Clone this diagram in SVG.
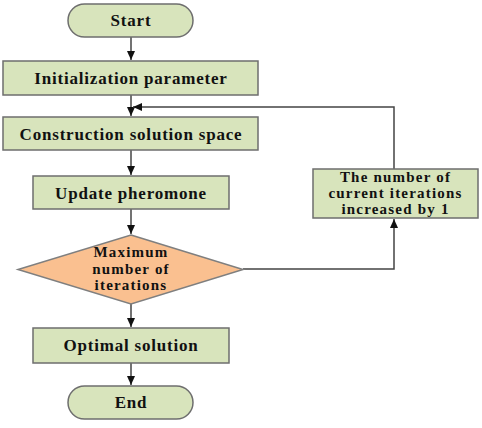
<svg xmlns="http://www.w3.org/2000/svg" width="482" height="428" viewBox="0 0 482 428">
<style>
.box{fill:#d8e4bc;stroke:#6e6e6e;stroke-width:1.5}
.dia{fill:#fac090;stroke:#7f7f7f;stroke-width:1.5}
.t{font-family:'Liberation Serif','DejaVu Serif','Times New Roman',serif;font-weight:bold;font-size:17px;letter-spacing:0.8px;fill:#111;text-anchor:middle}
.m{font-size:15px;letter-spacing:1.2px}
.c{fill:none;stroke:#444;stroke-width:1.5}
</style>
<defs>
<marker id="a" markerWidth="10" markerHeight="10" refX="9" refY="5" orient="auto" markerUnits="userSpaceOnUse">
<path d="M0,1 L9,5 L0,9 Z" fill="#111"/>
</marker>
</defs>
<rect width="482" height="428" fill="#fff"/>
<g id="connectors">
<line class="c" x1="131" y1="37" x2="131" y2="60" marker-end="url(#a)"/>
<line class="c" x1="131" y1="95" x2="131" y2="116" marker-end="url(#a)"/>
<line class="c" x1="131" y1="150" x2="131" y2="175" marker-end="url(#a)"/>
<line class="c" x1="131" y1="209" x2="131" y2="234" marker-end="url(#a)"/>
<line class="c" x1="131" y1="304" x2="131" y2="327" marker-end="url(#a)"/>
<line class="c" x1="131" y1="363" x2="131" y2="385" marker-end="url(#a)"/>
<polyline class="c" points="243,269 394,269 394,219" marker-end="url(#a)"/>
<polyline class="c" points="394,169 394,107 133,107" marker-end="url(#a)"/>
</g>
<g id="start">
<rect class="box" x="68" y="4" width="125" height="33" rx="16.5"/>
<text class="t" x="131" y="26">Start</text>
</g>
<g id="init">
<rect class="box" x="3" y="61" width="255" height="34"/>
<text class="t" x="131" y="84">Initialization parameter</text>
</g>
<g id="construct">
<rect class="box" x="3" y="117" width="255" height="33"/>
<text class="t" x="131" y="140">Construction solution space</text>
</g>
<g id="update">
<rect class="box" x="33" y="176" width="196" height="33"/>
<text class="t" x="131" y="199">Update pheromone</text>
</g>
<g id="decision">
<polygon class="dia" points="131,235 243,269.5 131,304 18,269.5"/>
<text class="t m" x="131" y="257">Maximum</text>
<text class="t m" x="131" y="273.5">number of</text>
<text class="t m" x="131" y="290">iterations</text>
</g>
<g id="optimal">
<rect class="box" x="33" y="328" width="196" height="35"/>
<text class="t" x="131" y="351">Optimal solution</text>
</g>
<g id="end">
<rect class="box" x="68" y="386" width="125" height="33" rx="16.5"/>
<text class="t" x="131" y="408">End</text>
</g>
<g id="increment">
<rect class="box" x="313" y="169" width="165" height="49"/>
<text class="t m" x="395.5" y="182">The number of</text>
<text class="t m" x="395.5" y="198">current iterations</text>
<text class="t m" x="395.5" y="214">increased by 1</text>
</g>
</svg>
